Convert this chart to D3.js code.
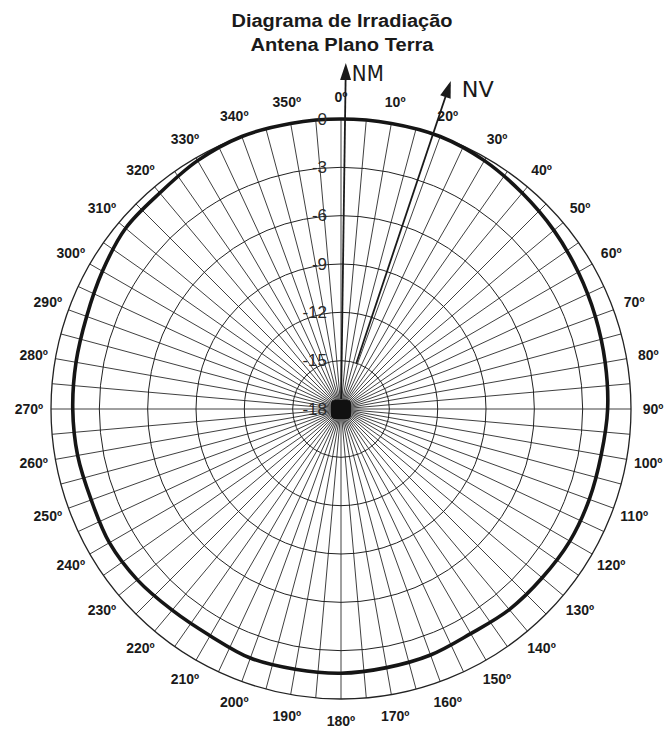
<!DOCTYPE html>
<html>
<head>
<meta charset="utf-8">
<script src="https://cdn.jsdelivr.net/npm/d3@7"></script>
<style>
  html, body { margin: 0; padding: 0; background: #ffffff; }
  svg { display: block; }
</style>
</head>
<body>
<svg id="chart" width="668" height="731"></svg>
<script>
// ---- data ----
const titleLines = ["Diagrama de Irradiação", "Antena Plano Terra"];
const angles = [0,10,20,30,40,50,60,70,80,90,100,110,120,130,140,150,160,170,
                180,190,200,210,220,230,240,250,260,270,280,290,300,310,320,330,340,350];
const gainDb = [0,0,0,-0.2,-0.5,-0.75,-1.0,-1.2,-1.35,-1.45,-1.6,-1.6,-1.6,-1.7,-1.75,-1.9,-1.75,-1.7,
                -1.6,-1.6,-1.55,-1.75,-1.7,-1.5,-1.4,-1.5,-1.4,-1.35,-1.3,-1.2,-0.9,-0.55,-0.5,-0.2,0,0];
const radialTicks = [0,-3,-6,-9,-12,-15,-18];
const angleLabels = [0,10,20,30,40,50,60,70,80,90,100,110,120,130,140,150,160,170,
                     180,190,200,210,220,230,240,250,260,270,280,290,300,310,320,330,340,350];
const spokeAngles = d3.range(0, 360, 5);
const arrows = [{name: "NM", angle: 0.8}, {name: "NV", angle: 18.5}];

// ---- layout ----
const svg = d3.select("#chart");
const cx = 341, cy = 409, R = 290;
const r = d3.scaleLinear().domain([-18, 0]).range([0, R]);
const rad = d => d * Math.PI / 180;
const px = (a, rr) => cx + rr * Math.sin(rad(a));
const py = (a, rr) => cy - rr * Math.cos(rad(a));

// title
const titleWidths = [221, 183];
svg.append("g").selectAll("text").data(titleLines).join("text")
  .attr("x", 342).attr("y", (d, i) => 27 + i * 24)
  .attr("text-anchor", "middle")
  .attr("font-family", "Liberation Sans, Arial, sans-serif")
  .attr("font-weight", "bold").attr("font-size", 18).attr("fill", "#1a1a1a")
  .attr("textLength", (d, i) => titleWidths[i]).attr("lengthAdjust", "spacingAndGlyphs")
  .text(d => d);

const g = svg.append("g");

// spokes
g.selectAll("line.spoke").data(spokeAngles).join("line")
  .attr("class", "spoke")
  .attr("x1", cx).attr("y1", cy)
  .attr("x2", d => px(d, R)).attr("y2", d => py(d, R))
  .attr("stroke", "#2a2a2a").attr("stroke-width", 0.9);

// rings
g.selectAll("circle.ring").data(radialTicks.filter(t => t > -18)).join("circle")
  .attr("class", "ring")
  .attr("cx", cx).attr("cy", cy).attr("r", d => r(d))
  .attr("fill", "none")
  .attr("stroke", "#222").attr("stroke-width", d => d === 0 ? 1.3 : 1);

// center blob
g.append("rect")
  .attr("x", cx - 10).attr("y", cy - 9).attr("width", 20).attr("height", 19)
  .attr("rx", 4).attr("fill", "#111");

// data curve
const line = d3.lineRadial()
  .angle(d => rad(d[0]))
  .radius(d => r(d[1]))
  .curve(d3.curveCatmullRomClosed.alpha(0.5));
g.append("path")
  .datum(angles.map((a, i) => [a, gainDb[i]]))
  .attr("transform", `translate(${cx},${cy})`)
  .attr("d", line)
  .attr("fill", "none").attr("stroke", "#151515").attr("stroke-width", 3.6);

// radial tick labels
g.selectAll("text.rt").data(radialTicks).join("text")
  .attr("class", "rt")
  .attr("x", cx - 14).attr("y", d => cy - r(d))
  .attr("text-anchor", "end").attr("dominant-baseline", "central")
  .attr("font-family", "Liberation Sans, Arial, sans-serif")
  .attr("font-size", 17).attr("fill", "#2a2a2a")
  .text(d => d);

// angle labels
g.selectAll("text.al").data(angleLabels).join("text")
  .attr("class", "al")
  .attr("x", d => px(d, R + 22)).attr("y", d => py(d, R + 22))
  .attr("text-anchor", "middle").attr("dominant-baseline", "central")
  .attr("font-family", "Liberation Sans, Arial, sans-serif")
  .attr("font-weight", "bold").attr("font-size", 14).attr("fill", "#1a1a1a")
  .text(d => d + "º");

// hand-drawn arrows
const tipR = 346, headLen = 17, headW = 5.5;
const ag = svg.append("g");
arrows.forEach(a => {
  const startR = a.name === "NM" ? 10 : 48;
  ag.append("line")
    .attr("x1", px(a.angle, startR)).attr("y1", py(a.angle, startR))
    .attr("x2", px(a.angle, tipR - 4)).attr("y2", py(a.angle, tipR - 4))
    .attr("stroke", "#1a1a1a").attr("stroke-width", 1.8);
  const t = rad(a.angle);
  const bx = px(a.angle, tipR - headLen), by = py(a.angle, tipR - headLen);
  const nx = Math.cos(t), ny = Math.sin(t);
  ag.append("path")
    .attr("d", `M${px(a.angle, tipR)},${py(a.angle, tipR)} L${bx + nx * headW},${by + ny * headW} L${bx - nx * headW},${by - ny * headW} Z`)
    .attr("fill", "#1a1a1a");
  ag.append("text")
    .attr("x", px(a.angle, tipR) + (a.name === "NM" ? 6 : 11))
    .attr("y", py(a.angle, tipR) + (a.name === "NM" ? 18 : 16))
    .attr("font-family", "DejaVu Sans, sans-serif")
    .attr("font-size", 22).attr("fill", "#1a1a1a")
    .attr("textLength", 32).attr("lengthAdjust", "spacingAndGlyphs")
    .text(a.name);
});
</script>
</body>
</html>
